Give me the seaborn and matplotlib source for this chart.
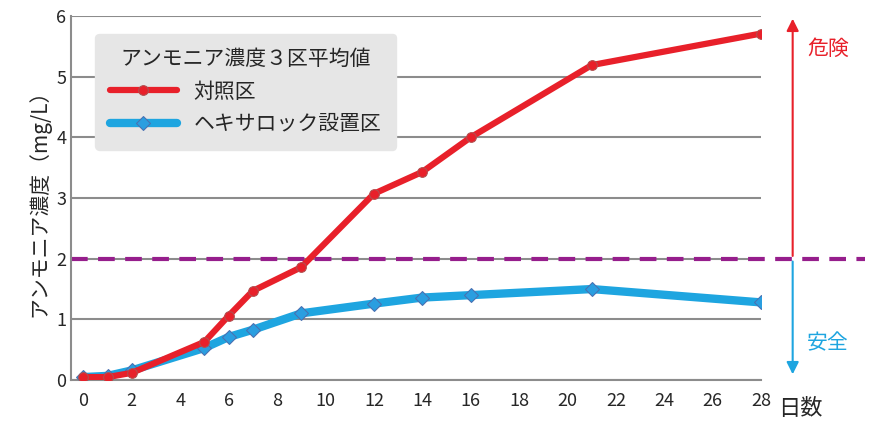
import matplotlib
matplotlib.use("Agg")
import matplotlib.pyplot as plt
import seaborn as sns
import pandas as pd

RED = "#e8202a"
BLUE = "#1ea5e0"
PURPLE = "#961e8c"

days = [0, 1, 2, 5, 6, 7, 9, 12, 14, 16, 21, 28]
control = [0.05, 0.05, 0.12, 0.63, 1.06, 1.47, 1.86, 3.07, 3.43, 4.00, 5.19, 5.71]
hexirock = [0.05, 0.07, 0.16, 0.53, 0.71, 0.83, 1.10, 1.26, 1.36, 1.40, 1.50, 1.28]
threshold = 2

sns.set_style("white")
plt.rcParams["font.family"] = "Noto Sans CJK JP"

fig = plt.figure(figsize=(8.8, 4.3), dpi=100)
ax = fig.add_axes([0.081, 0.116, 0.784, 0.847])

df = pd.DataFrame({"day": days, "対照区": control, "ヘキサロック設置区": hexirock})
sns.lineplot(data=df, x="day", y="対照区", ax=ax, color=RED, lw=4.5, marker="o",
             markersize=7, markerfacecolor=RED, markeredgecolor="#b05050", label="対照区", zorder=4)
sns.lineplot(data=df, x="day", y="ヘキサロック設置区", ax=ax, color=BLUE, lw=6, marker="D",
             markersize=7, markerfacecolor="#2a9ee0", markeredgecolor="#4a6fb0",
             label="ヘキサロック設置区", zorder=3)

ax.axhline(threshold, xmin=0, xmax=1.15, color=PURPLE, lw=3, ls=(0, (4, 2.5)), clip_on=False, zorder=2)

ax.set_xlim(-0.5, 28)
ax.set_ylim(0, 6)
ax.set_xticks(range(0, 29, 2))
ax.set_yticks(range(0, 7))
ax.yaxis.grid(True, color="#8c8c8c", lw=1.5)
for s in ["top", "right"]:
    ax.spines[s].set_visible(False)
for s in ["left", "bottom"]:
    ax.spines[s].set_color("#8c8c8c")
    ax.spines[s].set_linewidth(1.5)
ax.tick_params(axis="both", labelsize=13, length=5, color="#8c8c8c", width=1.5)
ax.tick_params(axis="y", length=0)
ax.set_xlabel("")
ax.set_ylabel("アンモニア濃度（mg/L）", fontsize=15)
ax.text(28.7, -0.47, "日数", fontsize=16, va="center", clip_on=False)

# arrows
ax.annotate("", xy=(29.3, 6), xytext=(29.3, 2), xycoords="data",
            arrowprops=dict(arrowstyle="-|>", color=RED, lw=1.5, mutation_scale=18), annotation_clip=False)
ax.annotate("", xy=(29.3, 0.05), xytext=(29.3, 2),
            arrowprops=dict(arrowstyle="-|>", color=BLUE, lw=1.5, mutation_scale=18), annotation_clip=False)
ax.text(29.9, 5.45, "危険", color=RED, fontsize=15, va="center")
ax.text(29.9, 0.6, "安全", color=BLUE, fontsize=15, va="center")

leg = ax.legend(title="アンモニア濃度３区平均値", loc="upper left", bbox_to_anchor=(0.02, 0.98),
                fontsize=15, title_fontsize=15, frameon=True, facecolor="#e6e6e6",
                edgecolor="#e6e6e6", fancybox=True, handlelength=3.2, borderpad=0.7)
leg.get_frame().set_alpha(1)

fig.savefig("out.png")
